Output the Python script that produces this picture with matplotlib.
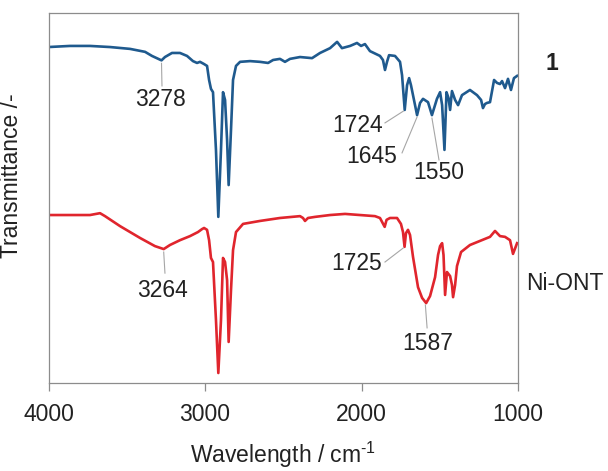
import matplotlib
matplotlib.use("Agg")
import matplotlib.pyplot as plt
import numpy as np

plt.rcParams["font.family"] = ["Liberation Sans", "DejaVu Sans"]
plt.rcParams["mathtext.fontset"] = "custom"
plt.rcParams["mathtext.rm"] = "Liberation Sans"
plt.rcParams["mathtext.it"] = "Liberation Sans:italic"
plt.rcParams["mathtext.bf"] = "Liberation Sans:bold"

# FT-IR spectrum of compound 1 (wavenumber in cm-1, offset transmittance in a.u.)
wn_1 = [4000, 3863, 3735, 3607, 3479, 3383, 3339, 3278, 3256, 3211, 3160, 3115,
        3077, 3051, 3032, 3006, 2987, 2974, 2962, 2949, 2930, 2915, 2898, 2885,
        2872, 2859, 2849, 2834, 2821, 2802, 2776, 2712, 2649, 2597, 2565, 2521,
        2489, 2457, 2393, 2316, 2265, 2201, 2156, 2125, 2073, 2029, 2003, 1978,
        1946, 1882, 1863, 1850, 1837, 1824, 1786, 1754, 1741, 1724, 1709, 1696,
        1684, 1671, 1645, 1626, 1607, 1575, 1550, 1518, 1498, 1485, 1470, 1457,
        1444, 1434, 1422, 1402, 1383, 1358, 1307, 1262, 1236, 1224, 1211, 1198,
        1179, 1153, 1134, 1115, 1102, 1083, 1064, 1045, 1026, 1006]
t_1 = [90.8, 91.1, 91.1, 90.8, 90.3, 89.5, 88.4, 87.2, 88.1, 89.2, 89.2, 88.4,
       87.0, 86.5, 86.8, 86.2, 85.7, 81.9, 79.5, 78.6, 63.0, 44.9, 63.0, 78.6,
       76.5, 65.7, 53.5, 68.4, 81.9, 85.7, 86.8, 87.0, 86.8, 86.5, 87.3, 87.6,
       86.8, 87.6, 88.1, 87.8, 89.2, 90.5, 92.2, 90.5, 91.1, 91.9, 91.1, 91.6,
       89.7, 88.4, 87.3, 84.6, 86.8, 88.6, 88.4, 86.8, 83.2, 73.8, 80.5, 82.4,
       80.5, 77.8, 72.4, 75.7, 76.8, 75.9, 72.4, 76.8, 78.6, 75.1, 63.0, 78.6,
       77.0, 73.8, 78.9, 76.5, 75.1, 77.8, 79.2, 77.8, 76.5, 74.3, 75.4, 75.7,
       75.9, 81.9, 81.1, 80.8, 81.6, 79.7, 82.2, 79.2, 82.4, 83.0]

# FT-IR spectrum of Ni-ONT
wn_ni = [4000, 3863, 3735, 3671, 3639, 3543, 3415, 3320, 3264, 3224, 3160, 3096,
         3045, 3019, 3006, 2987, 2974, 2962, 2949, 2930, 2915, 2898, 2885, 2872,
         2859, 2849, 2834, 2821, 2802, 2757, 2649, 2521, 2393, 2374, 2361, 2342,
         2297, 2201, 2105, 2010, 1914, 1882, 1852, 1840, 1818, 1773, 1748, 1735,
         1725, 1716, 1703, 1690, 1671, 1639, 1613, 1587, 1562, 1530, 1511, 1498,
         1485, 1476, 1466, 1454, 1434, 1422, 1415, 1402, 1390, 1364, 1307, 1243,
         1179, 1147, 1115, 1083, 1051, 1032, 1006]
t_ni = [45.4, 45.4, 45.4, 45.9, 45.1, 42.4, 39.2, 37.0, 36.2, 37.3, 38.6, 39.7,
        40.8, 41.6, 41.9, 41.4, 38.6, 33.8, 32.7, 17.0, 2.7, 17.0, 33.8, 32.7,
        27.8, 11.1, 25.1, 35.9, 40.8, 43.0, 43.8, 44.6, 45.1, 44.6, 43.8, 44.6,
        44.9, 45.4, 45.7, 45.4, 45.1, 44.6, 42.2, 44.1, 44.6, 44.6, 43.0, 40.8,
        36.8, 40.5, 41.4, 40.0, 34.1, 25.9, 23.0, 21.6, 23.5, 28.6, 34.6, 37.0,
        37.8, 34.6, 23.8, 30.0, 28.9, 26.5, 23.2, 26.5, 31.6, 35.4, 37.3, 38.4,
        39.5, 41.1, 39.7, 39.5, 38.6, 34.9, 37.8]

peaks_1 = [3278, 1724, 1645, 1550]
peaks_ni = [3264, 1725, 1587]

blue = "#1f5a8e"
red = "#e0252d"
grey = "#a6a6a6"
txt = "#222222"

fig = plt.figure(figsize=(6.08, 4.71), dpi=100)
ax = fig.add_axes([0.0798, 0.1868, 0.7722, 0.7856])

ax.plot(wn_1, t_1, color=blue, lw=1.9, solid_joinstyle="round")
ax.plot(wn_ni, t_ni, color=red, lw=1.9, solid_joinstyle="round")

ax.set_xlim(4000, 1000)
ax.set_ylim(0, 100)
ax.set_xticks([4000, 3000, 2000, 1000])
ax.set_yticks([])
ax.tick_params(axis="x", direction="out", length=5.5, width=0.9, color="#8c8c8c",
               labelsize=16.5, labelcolor=txt, pad=9)
for s in ax.spines.values():
    s.set_color("#8c8c8c")
    s.set_linewidth(0.9)

ax.set_xlabel(r"Wavelength / cm$^{\text{-1}}$", fontsize=16.5, color=txt, labelpad=10)
ax.set_ylabel("Transmittance /-", fontsize=16.5, color=txt)
ax.yaxis.set_label_coords(-0.054, 0.56)


def peak_value(wn, t, w):
    return t[wn.index(w)]


def label(wn, t, w, start, end, text_xy, ha="center"):
    y0 = peak_value(wn, t, w)
    x0 = w + start[0]
    ax.plot([x0, end[0]], [y0 + start[1], end[1]], color=grey, lw=0.8)
    ax.text(text_xy[0], text_xy[1], str(w), fontsize=16.5, color=txt,
            ha=ha, va="center")


# leader offsets and text positions for each annotated band
label(wn_1, t_1, peaks_1[0], (0, -0.8), (3275, 80.3), (3287, 76.5))
label(wn_1, t_1, peaks_1[1], (8, -0.3), (1850, 70.3), (1866, 69.7), ha="right")
label(wn_1, t_1, peaks_1[2], (0, -0.5), (1741, 62.2), (1770, 61.3), ha="right")
label(wn_1, t_1, peaks_1[3], (0, -0.8), (1505, 60.3), (1505, 56.8))
label(wn_ni, t_ni, peaks_ni[0], (0, -0.8), (3256, 29.7), (3275, 25.1))
label(wn_ni, t_ni, peaks_ni[1], (8, -0.3), (1850, 32.7), (1866, 32.2), ha="right")
label(wn_ni, t_ni, peaks_ni[2], (5, -0.5), (1581, 14.9), (1575, 10.8))

fig.text(0.908, 0.866, "1", fontsize=16.5, fontweight="bold", color=txt,
         ha="center", va="center")
fig.text(0.865, 0.399, "Ni-ONT", fontsize=16.5, color=txt, ha="left", va="center")

fig.savefig("out.png", dpi=100)
